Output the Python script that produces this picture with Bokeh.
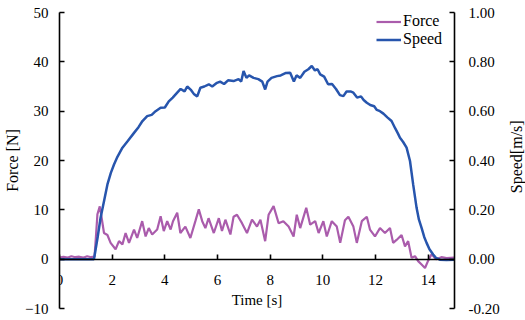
import math
from bokeh.plotting import figure
from bokeh.layouts import row
from bokeh.models import (Range1d, LinearAxis, FixedTicker, NumeralTickFormatter, Legend, Label)
from bokeh.embed import file_html
from bokeh.resources import INLINE

# ---------------- data ----------------
force_t = [0, 0.15, 0.3, 0.45, 0.6, 0.75, 0.9, 1.05, 1.2, 1.33, 1.38, 1.44, 1.53, 1.60,
           1.69, 1.82, 1.94, 2.13, 2.26, 2.39, 2.51, 2.64, 2.83, 2.95, 3.14, 3.27, 3.39,
           3.52, 3.71, 3.84, 3.96, 4.09, 4.22, 4.31, 4.47, 4.59, 4.78, 4.97, 5.16, 5.29,
           5.42, 5.54, 5.66, 5.86, 6.05, 6.17, 6.30, 6.49, 6.61, 6.74, 6.93, 7.12, 7.31,
           7.50, 7.63, 7.81, 7.94, 8.13, 8.32, 8.50, 8.70, 8.89, 9.01, 9.14, 9.37, 9.52,
           9.71, 9.84, 10.02, 10.15, 10.34, 10.53, 10.66, 10.84, 10.97, 11.16, 11.29,
           11.48, 11.67, 11.79, 11.98, 12.17, 12.36, 12.55, 12.67, 12.80, 12.99, 13.12,
           13.24, 13.37, 13.50, 13.62, 13.75, 13.88, 14.00, 14.13, 14.30, 14.5, 14.7, 15.0]
force_n = [0.3, 0.5, 0.3, 0.6, 0.4, 0.5, 0.3, 0.6, 0.4, 0.5, 4.3, 9.1, 10.7, 8.4,
           5.3, 4.9, 3.3, 2.0, 3.65, 3.0, 5.3, 3.3, 6.0, 4.3, 7.7, 4.6, 6.3,
           5.0, 6.0, 8.7, 5.7, 7.7, 6.0, 7.7, 9.4, 5.3, 6.6, 4.3, 7.7, 10.1,
           7.7, 6.3, 8.3, 5.3, 8.3, 5.7, 8.0, 5.0, 8.6, 9.0, 7.3, 5.3, 8.0,
           6.6, 8.0, 3.65, 9.0, 10.75, 7.3, 7.7, 6.6, 4.6, 9.0, 6.3, 10.4, 7.0,
           7.7, 5.3, 7.7, 4.6, 7.7, 6.6, 3.3, 7.9, 8.6, 6.6, 3.3,
           7.7, 8.6, 6.0, 4.6, 6.3, 5.3, 6.3, 3.3, 3.9, 4.9, 2.6,
           3.65, 0.3, 0.6, -0.4, -1.1, -1.8, -0.3, 1.0, 0.0, 0.4, 0.2, 0.3]

speed_t = [0, 1.31, 1.45, 1.56, 1.7, 1.82, 1.95, 2.07, 2.2, 2.39, 2.6, 2.83, 3.0, 3.15,
           3.33, 3.5, 3.65, 3.84, 4.0, 4.15, 4.3, 4.47, 4.6, 4.75, 4.85, 5.0, 5.1, 5.23,
           5.35, 5.5, 5.67, 5.8, 5.98, 6.1, 6.25, 6.4, 6.61, 6.8, 6.9, 6.99, 7.1, 7.2,
           7.37, 7.55, 7.7, 7.81, 7.9, 8.05, 8.26, 8.4, 8.6, 8.76, 8.9, 9.0, 9.14, 9.3,
           9.45, 9.58, 9.7, 9.8, 9.9, 10.05, 10.2, 10.35, 10.5, 10.65, 10.78, 10.9, 11.05,
           11.16, 11.3, 11.45, 11.55, 11.67, 11.8, 11.95, 12.05, 12.17, 12.3, 12.45, 12.61,
           12.75, 12.85, 12.93, 13.05, 13.18, 13.31, 13.43, 13.56, 13.65, 13.75, 13.85,
           13.94, 14.05, 14.19, 14.3, 14.44, 14.7, 15.0]
speed_ms = [0, 0, 0.09, 0.168, 0.24, 0.303, 0.35, 0.384, 0.415, 0.452, 0.48, 0.512, 0.535, 0.56,
            0.58, 0.585, 0.60, 0.614, 0.615, 0.64, 0.655, 0.675, 0.69, 0.68, 0.70, 0.685, 0.67, 0.66,
            0.695, 0.70, 0.709, 0.70, 0.715, 0.72, 0.71, 0.725, 0.722, 0.73, 0.72, 0.763, 0.735, 0.745,
            0.735, 0.73, 0.72, 0.688, 0.72, 0.735, 0.742, 0.745, 0.755, 0.756, 0.72, 0.745, 0.735, 0.76,
            0.77, 0.783, 0.765, 0.77, 0.749, 0.74, 0.709, 0.71, 0.69, 0.665, 0.661, 0.68, 0.68,
            0.675, 0.655, 0.66, 0.645, 0.634, 0.625, 0.62, 0.605, 0.600, 0.59, 0.575, 0.560,
            0.53, 0.51, 0.492, 0.475, 0.452, 0.398, 0.303, 0.208, 0.16, 0.127, 0.09,
            0.066, 0.04, 0.019, 0.005, -0.002, -0.003, -0.002]

x_ticks = [0, 2, 4, 6, 8, 10, 12, 14]
force_ticks = [-10, 0, 10, 20, 30, 40, 50]
speed_ticks = [-0.2, 0.0, 0.2, 0.4, 0.6, 0.8, 1.0]

FONT = "'Liberation Serif', 'Times New Roman', serif"
FORCE_COLOR = "#AA5CAC"
SPEED_COLOR = "#2755AD"

p = figure(width=505, height=320, output_backend="svg", toolbar_location=None,
           x_range=Range1d(0, 15), y_range=Range1d(-10, 50),
           min_border_left=59, min_border_right=51, min_border_top=12, min_border_bottom=12)
p.outline_line_color = None
p.grid.visible = False
p.background_fill_color = "white"
p.border_fill_color = "white"

p.extra_y_ranges = {"speed": Range1d(-0.2, 1.0)}

r_force = p.line(force_t, force_n, color=FORCE_COLOR, line_width=2.2)
r_speed = p.line(speed_t, speed_ms, color=SPEED_COLOR, line_width=2.5, y_range_name="speed")

right = LinearAxis(y_range_name="speed", ticker=FixedTicker(ticks=speed_ticks),
                   formatter=NumeralTickFormatter(format="0.00"))
p.add_layout(right, "right")

xa = p.xaxis[0]
xa.fixed_location = 0
xa.ticker = FixedTicker(ticks=x_ticks)
xa.axis_label = "Time [s]"

ya = p.yaxis[0]
ya.ticker = FixedTicker(ticks=force_ticks)
ya.axis_label = "Force [N]"

for ax in [xa, ya, right]:
    ax.axis_line_color = "black"
    ax.axis_line_width = 1.6
    ax.major_tick_line_color = "black"
    ax.major_tick_line_width = 1.6
    ax.major_tick_in = 5
    ax.major_tick_out = 0
    ax.minor_tick_line_color = None
    ax.major_label_text_font = FONT
    ax.major_label_text_font_size = "15px"
    ax.major_label_text_color = "black"
    ax.axis_label_text_font = FONT
    ax.axis_label_text_font_size = "15px"
    ax.axis_label_text_font_style = "normal"
    ax.axis_label_text_color = "black"

ya.axis_label_text_font_size = "16px"
xa.major_label_standoff = 16
xa.axis_label_standoff = 3
ya.major_label_standoff = 11
ya.axis_label_standoff = 1
right.major_label_standoff = 14

legend = Legend(items=[("Force", [r_force]), ("Speed", [r_speed])], location="top_right")
legend.margin = 0
legend.padding = 5
legend.spacing = 0
legend.glyph_width = 25
legend.glyph_height = 15
legend.label_height = 15
legend.label_width = 51
legend.label_standoff = 2
legend.border_line_color = None
legend.background_fill_alpha = 0
legend.label_text_font = FONT
legend.label_text_font_size = "16px"
legend.label_text_color = "black"
p.add_layout(legend)

# narrow strip on the right carrying the secondary axis title (reads bottom-to-top)
p2 = figure(width=20, height=320, output_backend="svg", toolbar_location=None,
            x_range=Range1d(0, 20), y_range=Range1d(0, 320),
            x_axis_type=None, y_axis_type=None,
            min_border_left=0, min_border_right=0, min_border_top=0, min_border_bottom=0)
p2.outline_line_color = None
p2.grid.visible = False
p2.add_layout(Label(x=10.5, y=164, text="Speed[m/s]", angle=math.pi / 2,
                    text_font=FONT, text_font_size="16px", text_align="center",
                    text_baseline="middle", text_color="black"))

layout = row(p, p2, spacing=0)
open("out.html", "w").write(file_html(layout, INLINE))
